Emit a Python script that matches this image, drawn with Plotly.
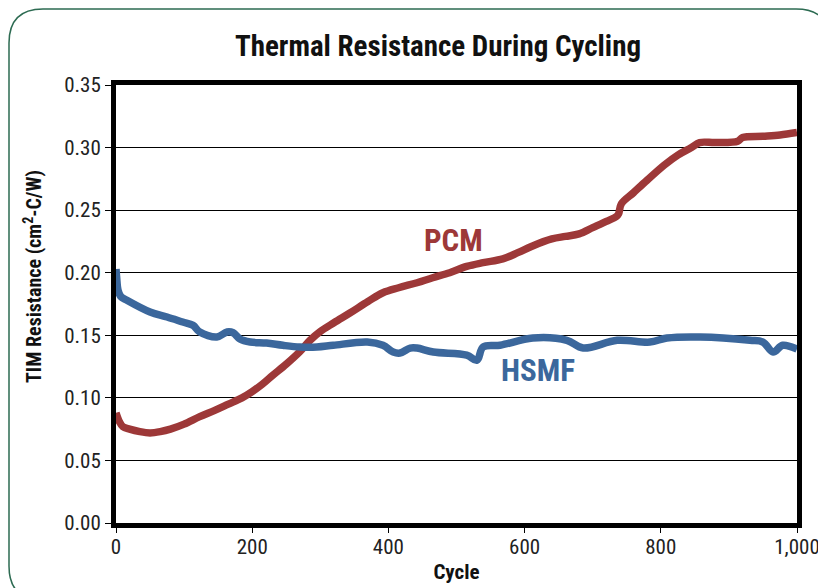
import plotly.graph_objects as go

# ---- data ----
pcm_cycle = [0, 5, 10, 20, 35, 50, 65, 80, 100, 123, 145, 165, 185, 200, 215, 230,
             250, 270, 285, 300, 320, 344, 370, 392, 415, 442, 465, 490, 515, 539,
             568, 590, 610, 640, 660, 680, 700, 720, 735, 738, 742, 760, 780, 805,
             825, 845, 857, 880, 913, 920, 950, 975, 1000]
pcm_value = [0.088, 0.081, 0.077, 0.075, 0.073, 0.072, 0.073, 0.075, 0.079, 0.085,
             0.090, 0.095, 0.100, 0.105, 0.111, 0.118, 0.127, 0.137, 0.146, 0.153,
             0.160, 0.168, 0.177, 0.184, 0.188, 0.192, 0.196, 0.200, 0.205, 0.208,
             0.211, 0.216, 0.221, 0.227, 0.229, 0.231, 0.236, 0.241, 0.245, 0.247,
             0.255, 0.264, 0.274, 0.286, 0.294, 0.300, 0.304, 0.304, 0.305, 0.308,
             0.309, 0.310, 0.312]

hsmf_cycle = [0, 1, 3, 7, 16, 50, 75, 98, 113, 123, 148, 163, 172, 182, 197, 221,
              245, 270, 295, 319, 369, 392, 407, 417, 432, 442, 466, 515, 530, 539,
              564, 612, 662, 686, 736, 784, 809, 858, 931, 950, 965, 979, 1000]
hsmf_value = [0.203, 0.196, 0.186, 0.181, 0.178, 0.1686, 0.1646, 0.1606, 0.158,
              0.1526, 0.1486, 0.1526, 0.152, 0.147, 0.1446, 0.1438, 0.142, 0.1406,
              0.1406, 0.142, 0.1446, 0.142, 0.1366, 0.1358, 0.1398, 0.1398, 0.1366,
              0.1342, 0.130, 0.1406, 0.142, 0.1478, 0.146, 0.1398, 0.146, 0.1446,
              0.1478, 0.1486, 0.146, 0.1446, 0.1366, 0.142, 0.139]

x_ticks = [0, 200, 400, 600, 800, 1000]
x_tick_labels = ["0", "200", "400", "600", "800", "1,000"]
y_ticks = [0.00, 0.05, 0.10, 0.15, 0.20, 0.25, 0.30, 0.35]
y_tick_labels = ["0.00", "0.05", "0.10", "0.15", "0.20", "0.25", "0.30", "0.35"]

RED = "#9d3838"
BLUE = "#3b679c"
FONT = "Roboto Condensed, Open Sans Condensed, sans-serif"

# the page's body margin is removed (post_script), so the figure fills the window
W, H = 818, 588
ML, MR, MT, MB = 116, 21, 85, 65
PW, PH = W - ML - MR, H - MT - MB


def px(xp):
    """window pixel x -> paper x"""
    return (xp - ML) / PW


def py(yp):
    """window pixel y -> paper y"""
    return (H - MB - yp) / PH


fig = go.Figure()
fig.add_trace(go.Scatter(x=pcm_cycle, y=pcm_value, mode="lines", name="PCM",
                         line=dict(color=RED, width=7.5), line_shape="spline"))
fig.add_trace(go.Scatter(x=hsmf_cycle, y=hsmf_value, mode="lines", name="HSMF",
                         line=dict(color=BLUE, width=7.5), line_shape="spline"))

# rounded outer frame
x0, y0, x1, y1, r = px(9), py(9), px(830), py(600), 34
rx, ry = r / PW, r / PH
path = (f"M {x0+rx},{y0} L {x1-rx},{y0} Q {x1},{y0} {x1},{y0-ry} "
        f"L {x1},{y1+ry} Q {x1},{y1} {x1-rx},{y1} "
        f"L {x0+rx},{y1} Q {x0},{y1} {x0},{y1+ry} "
        f"L {x0},{y0-ry} Q {x0},{y0} {x0+rx},{y0} Z")
fig.add_shape(type="path", path=path, xref="paper", yref="paper",
              line=dict(color="#2d6b52", width=1.5), layer="below")

fig.add_annotation(x=496, y=0.2261, text="<b>PCM</b>", showarrow=False,
                   font=dict(family=FONT, size=31, color=RED))
fig.add_annotation(x=620, y=0.1215, text="<b>HSMF</b>", showarrow=False,
                   font=dict(family=FONT, size=31, color=BLUE))
# y-axis title (sits above the plot's centre in the reference)
fig.add_annotation(x=px(33), y=py(277), xref="paper", yref="paper",
                   text="<b>TIM Resistance (cm<sup>2</sup>-C/W)</b>", textangle=-90,
                   showarrow=False, xanchor="center", yanchor="middle",
                   font=dict(family=FONT, size=20, color="#111"))

fig.update_layout(
    width=W, height=H,
    margin=dict(l=ML, r=MR, t=MT, b=MB, autoexpand=False),
    paper_bgcolor="white", plot_bgcolor="white",
    showlegend=False,
    title=dict(text="<b>Thermal Resistance During Cycling</b>",
               x=438 / W, xanchor="center", y=1 - 46 / H, yanchor="middle",
               font=dict(family=FONT, size=29, color="#111")),
    font=dict(family=FONT, color="#222"),
)
fig.update_xaxes(range=[0, 1000], tickvals=x_ticks, ticktext=x_tick_labels,
                 automargin=False,
                 showgrid=False, zeroline=False, ticklabeloverflow="allow",
                 showline=True, linewidth=5, linecolor="black", mirror=True,
                 ticks="outside", ticklen=5, tickwidth=1, tickcolor="black",
                 ticklabelstandoff=-4,
                 tickfont=dict(family=FONT, size=21, color="#222"),
                 title=dict(text="<b>Cycle</b>", standoff=8,
                            font=dict(family=FONT, size=21, color="#111")))
fig.update_yaxes(range=[0, 0.35], tickvals=y_ticks, ticktext=y_tick_labels,
                 automargin=False,
                 showgrid=True, gridcolor="black", gridwidth=1, zeroline=False,
                 showline=True, linewidth=5, linecolor="black", mirror=True,
                 ticks="outside", ticklen=6, tickwidth=1, tickcolor="black",
                 ticklabelstandoff=0,
                 tickfont=dict(family=FONT, size=21, color="#222"))

fig.write_html(
    "out.html",
    config={"displayModeBar": False},
    post_script=("document.documentElement.style.margin='0';"
                 "document.documentElement.style.overflow='hidden';"
                 "document.body.style.margin='0';"
                 "document.body.style.overflow='hidden';"),
)
